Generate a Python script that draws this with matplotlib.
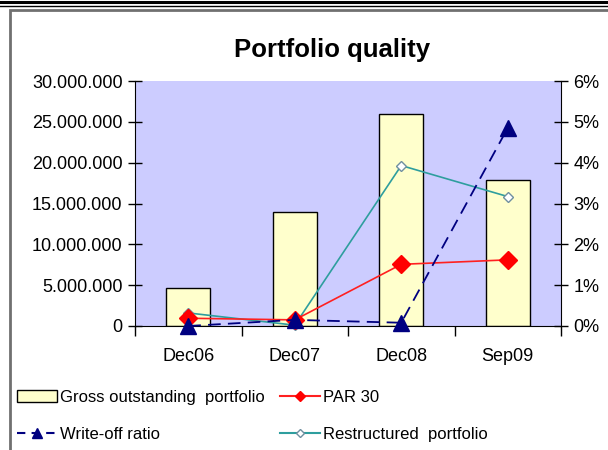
import matplotlib.pyplot as plt
from matplotlib.patches import Rectangle, Patch
from matplotlib.lines import Line2D
from matplotlib.ticker import FuncFormatter

plt.rcParams['font.family'] = ['Liberation Sans', 'DejaVu Sans']

periods = ["Dec06", "Dec07", "Dec08", "Sep09"]
gross = [4650000, 14000000, 26000000, 17900000]
par30 = [0.19, 0.15, 1.51, 1.62]
writeoff = [0.0, 0.15, 0.08, 4.85]
restructured = [0.32, 0.02, 3.93, 3.17]

fig = plt.figure(figsize=(6.08, 4.5), dpi=100)

# page decoration: double rule at top and grey frame
fig.add_artist(Line2D([0, 1], [1 - 2/450, 1 - 2/450], color="black", lw=2.2))
fig.add_artist(Line2D([0, 1], [1 - 5.5/450, 1 - 5.5/450], color="black", lw=1.0))
fig.add_artist(Rectangle((10/608, -0.05), 1.0, 1 - 10/450 + 0.05, fill=False,
                         edgecolor="#707070", lw=2.0))

ax = fig.add_axes([135/608, 1 - 326/450, 426/608, 245/450])
ax.set_facecolor("#CCCCFF")
x = [i + 0.5 for i in range(len(periods))]
ax.bar(x, gross, width=0.41, color="#FFFFCC", edgecolor="black", lw=1.0, zorder=2)
ax.set_xlim(0, 4)
ax.set_ylim(0, 30000000)
ax.set_yticks(range(0, 30000001, 5000000))
ax.yaxis.set_major_formatter(FuncFormatter(lambda v, p: f"{int(v):,}".replace(",", ".")))
ax.set_xticks([0, 1, 2, 3, 4])
ax.set_xticklabels([])
ax.set_xticks(x, minor=True)
ax.set_xticklabels(periods, minor=True)
ax.tick_params(axis="x", which="minor", length=0, labelsize=13, pad=16)
ax.tick_params(axis="x", which="major", direction="out", length=7, width=1)
ax.tick_params(axis="y", direction="inout", length=10, width=1, labelsize=13, pad=4)
for s in ["top", "right"]:
    ax.spines[s].set_visible(False)

ax2 = ax.twinx()
ax2.set_ylim(0, 6)
ax2.set_yticks(range(0, 7))
ax2.yaxis.set_major_formatter(FuncFormatter(lambda v, p: f"{int(v)}%"))
ax2.tick_params(axis="y", direction="inout", length=10, width=1, labelsize=13, pad=4)
ax2.spines["top"].set_visible(False)
ax2.spines["left"].set_visible(False)
ax2.spines["bottom"].set_visible(False)
ax2.plot(x, restructured, color="#2E9E9E", lw=1.2, marker="D", ms=5,
         mfc="white", mec="#6F8FA0", clip_on=False, zorder=3)
ax2.plot(x, par30, color="#FF2020", lw=1.2, marker="D", ms=9,
         mfc="#FF0000", mec="#FF0000", clip_on=False, zorder=4)
ax2.plot(x, writeoff, color="#000080", lw=1.3, ls=(0, (7, 4)), marker="^", ms=12,
         mfc="#000080", mec="#000080", clip_on=False, zorder=5)

fig.text(332/608, 1 - 50/450, "Portfolio quality", ha="center", va="center",
         fontsize=18.5, fontweight="bold")

handles = [
    Patch(facecolor="#FFFFCC", edgecolor="black", lw=1.0),
    Line2D([], [], color="#000080", ls=(0, (4, 3)), marker="^", ms=7, mfc="#000080"),
    Line2D([], [], color="#FF2020", marker="D", ms=5, mfc="#FF0000", mec="#FF0000"),
    Line2D([], [], color="#2E9E9E", marker="D", ms=4, mfc="white", mec="#6F8FA0"),
]
labels = ["Gross outstanding  portfolio", "Write-off ratio", "PAR 30",
          "Restructured  portfolio"]
fig.legend(handles, labels, ncol=2, loc="upper left", bbox_to_anchor=(17/608, 1 - 390/450),
           frameon=False, fontsize=12, handlelength=2.4, handletextpad=0.2,
           columnspacing=0.9, labelspacing=1.3, borderaxespad=0, borderpad=0)

plt.savefig("out.png", dpi=100)
